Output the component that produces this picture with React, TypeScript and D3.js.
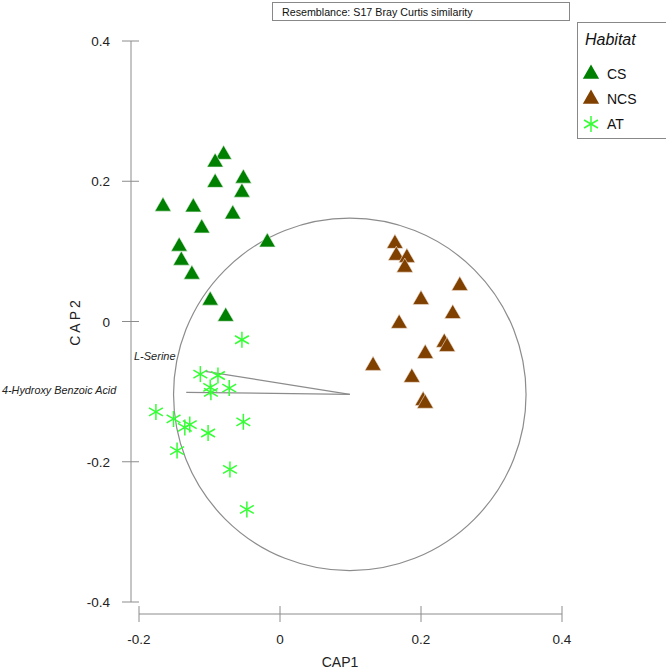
import React from "react";
import * as d3 from "d3";

const csX = [-0.080, -0.092, -0.092, -0.052, -0.054, -0.166, -0.123, -0.067, -0.111, -0.143, -0.140, -0.125, -0.018, -0.099, -0.077];
const csY = [0.238, 0.227, 0.198, 0.204, 0.184, 0.164, 0.163, 0.153, 0.133, 0.107, 0.087, 0.067, 0.113, 0.030, 0.007];
const ncsX = [0.163, 0.165, 0.180, 0.177, 0.255, 0.200, 0.245, 0.169, 0.233, 0.237, 0.206, 0.132, 0.187, 0.203, 0.206];
const ncsY = [0.111, 0.094, 0.091, 0.077, 0.051, 0.031, 0.011, -0.003, -0.030, -0.036, -0.046, -0.063, -0.080, -0.113, -0.117];
const atX = [-0.054, -0.113, -0.088, -0.099, -0.098, -0.072, -0.176, -0.151, -0.135, -0.128, -0.102, -0.052, -0.146, -0.071, -0.047];
const atY = [-0.026, -0.075, -0.077, -0.094, -0.101, -0.095, -0.129, -0.139, -0.151, -0.147, -0.159, -0.143, -0.184, -0.211, -0.268];

const xTicks = [-0.2, 0, 0.2, 0.4];
const yTicks = [0.4, 0.2, 0, -0.2, -0.4];
const xTickLabels = ["-0.2", "0", "0.2", "0.4"];
const yTickLabels = ["0.4", "0.2", "0", "-0.2", "-0.4"];

const vecOrigin = [0.099, -0.104];
const vecNames = ["L-Serine", "4-Hydroxy Benzoic Acid"];
const vecEndX = [-0.106, -0.133];
const vecEndY = [-0.071, -0.101];
const circleRadius = 0.25;

const legendNames = ["CS", "NCS", "AT"];
const csColor = "#008000";
const ncsColor = "#804000";
const atColor = "#33ff33";

const font = "Liberation Sans, Arial, sans-serif";

function Star({ x, y, r, color }: { x: number; y: number; r: number; color: string }) {
  const angles = [90, 30, 150];
  return (
    <g>
      {angles.map((a) => {
        const rad = (a * Math.PI) / 180;
        const dx = Math.cos(rad) * r;
        const dy = Math.sin(rad) * r;
        return <line key={a} x1={x - dx} y1={y - dy} x2={x + dx} y2={y + dy} stroke={color} strokeWidth={1.5} />;
      })}
    </g>
  );
}

export default function App() {
  const x = d3.scaleLinear().domain([-0.2, 0.4]).range([139, 562]);
  const y = d3.scaleLinear().domain([-0.4, 0.4]).range([602, 41]);
  const tri = d3.symbol().type(d3.symbolTriangle).size(115)() as string;
  const axisColor = "#8c8c8c";
  const cx = x(vecOrigin[0]);
  const cy = y(vecOrigin[1]);
  const rPx = x(circleRadius) - x(0);

  return (
    <svg width={666} height={670} style={{ position: "absolute", left: 0, top: 0 }}>
      <rect x={0} y={0} width={666} height={670} fill="#fff" />
      {/* title box */}
      <rect x={272.5} y={2.5} width={297} height={18} fill="#fff" stroke="#888" strokeWidth={1} />
      <text x={282} y={15.5} fontFamily={font} fontSize={10.7} fill="#111">
        Resemblance: S17 Bray Curtis similarity
      </text>

      {/* y axis */}
      <line x1={131} x2={131} y1={y(0.4)} y2={y(-0.4)} stroke={axisColor} />
      {yTicks.map((t, i) => (
        <g key={t}>
          <line x1={122} x2={139} y1={y(t)} y2={y(t)} stroke={axisColor} />
          <text x={110} y={y(t) + 5} textAnchor="end" fontFamily={font} fontSize={13.5} fill="#222">
            {yTickLabels[i]}
          </text>
        </g>
      ))}
      <text
        transform={`translate(80,${y(0)}) rotate(-90)`}
        textAnchor="middle"
        fontFamily={font}
        fontSize={14}
        letterSpacing={3}
        fill="#222"
      >
        CAP2
      </text>

      {/* x axis */}
      <line x1={x(-0.2)} x2={x(0.4)} y1={614} y2={614} stroke={axisColor} />
      {xTicks.map((t, i) => (
        <g key={t}>
          <line x1={x(t)} x2={x(t)} y1={606} y2={622} stroke={axisColor} />
          <text x={x(t)} y={644} textAnchor="middle" fontFamily={font} fontSize={13.5} fill="#222">
            {xTickLabels[i]}
          </text>
        </g>
      ))}
      <text x={340} y={667} textAnchor="middle" fontFamily={font} fontSize={14} fill="#222">
        CAP1
      </text>

      {/* circle */}
      <circle cx={cx} cy={cy} r={rPx} fill="none" stroke="#8c8c8c" strokeWidth={1.2} />

      {/* vectors */}
      {vecNames.map((n, i) => (
        <line key={n} x1={cx} y1={cy} x2={x(vecEndX[i])} y2={y(vecEndY[i])} stroke="#8c8c8c" strokeWidth={1.2} />
      ))}
      <text x={134} y={360} fontFamily={font} fontSize={11} fontStyle="italic" fill="#222">
        {vecNames[0]}
      </text>
      <text x={2} y={394} fontFamily={font} fontSize={10.8} fontStyle="italic" fill="#222">
        {vecNames[1]}
      </text>

      {/* points */}
      {csX.map((v, i) => (
        <path key={"cs" + i} d={tri} transform={`translate(${x(v)},${y(csY[i])})`} fill={csColor} stroke="#e8f5e8" strokeWidth={0.6} />
      ))}
      {ncsX.map((v, i) => (
        <path key={"ncs" + i} d={tri} transform={`translate(${x(v)},${y(ncsY[i])})`} fill={ncsColor} stroke="#f3e6da" strokeWidth={0.6} />
      ))}
      {atX.map((v, i) => (
        <Star key={"at" + i} x={x(v)} y={y(atY[i])} r={8} color={atColor} />
      ))}

      {/* legend */}
      <rect x={577.5} y={22.5} width={95} height={116} fill="#fff" stroke="#888" strokeWidth={1} />
      <text x={585} y={45} fontFamily={font} fontSize={16} fontStyle="italic" fill="#111">
        Habitat
      </text>
      <path d={tri} transform="translate(591,74)" fill={csColor} />
      <text x={607} y={79} fontFamily={font} fontSize={14} fill="#111">{legendNames[0]}</text>
      <path d={tri} transform="translate(591,99)" fill={ncsColor} />
      <text x={607} y={104} fontFamily={font} fontSize={14} fill="#111">{legendNames[1]}</text>
      <Star x={591} y={124} r={8} color={atColor} />
      <text x={607} y={129} fontFamily={font} fontSize={14} fill="#111">{legendNames[2]}</text>
    </svg>
  );
}
